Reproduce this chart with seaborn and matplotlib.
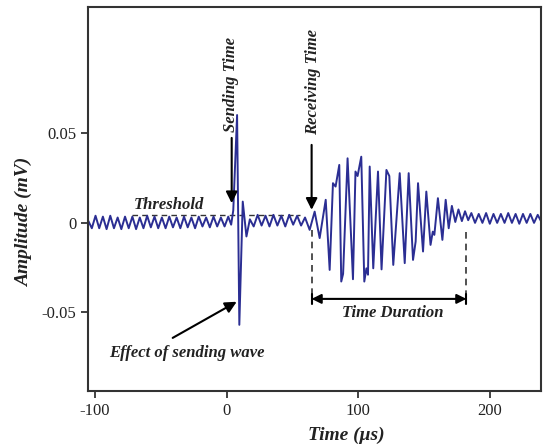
import matplotlib
matplotlib.use("Agg")
import matplotlib.pyplot as plt
import seaborn as sns
import pandas as pd

# ---- data ----
time_us = [
    -105.0, -102.4, -99.6, -96.8, -94.0, -91.2, -88.4, -85.6, -82.8, -80.0,
    -77.2, -74.4, -71.6, -68.8, -66.0, -63.2, -60.4, -57.6, -54.8, -52.0,
    -49.2, -46.4, -43.6, -40.8, -38.0, -35.2, -32.4, -29.6, -26.8, -24.0,
    -21.2, -18.4, -15.6, -12.8, -10.0, -7.2, -4.4, -1.6, 1.2, 3.4,
    5.0, 7.9, 9.6, 12.2, 15.0, 17.6, 20.5, 23.5, 26.5, 29.5,
    32.5, 35.5, 38.5, 41.5, 44.5, 47.5, 50.5, 53.5, 56.5, 59.5,
    63.0, 66.8, 70.6, 75.2, 78.2, 80.7, 82.7, 85.5, 87.0, 88.4,
    91.8, 95.9, 97.8, 99.4, 102.2, 104.5, 106.1, 107.3, 108.6, 111.3,
    114.9, 117.6, 121.3, 123.5, 126.5, 131.4, 135.2, 138.2, 141.5, 143.5,
    145.3, 149.1, 151.6, 154.8, 156.5, 157.7, 160.4, 163.8, 166.3, 168.6,
    171.0, 173.6, 176.0, 178.6, 181.0, 183.4, 185.8, 188.6, 191.4, 194.2,
    197.0, 199.8, 202.6, 205.4, 208.2, 211.0, 213.8, 216.6, 219.4, 222.2,
    225.0, 227.8, 230.6, 233.4, 236.2, 239.0,
]
amplitude_mv = [
    0.0010, -0.0030, 0.0040, -0.0030, 0.0035, -0.0035, 0.0040, -0.0030, 0.0030, -0.0035,
    0.0035, -0.0030, 0.0035, -0.0035, 0.0030, -0.0030, 0.0040, -0.0025, 0.0035, -0.0030,
    0.0030, -0.0030, 0.0035, -0.0025, 0.0030, -0.0030, 0.0035, -0.0025, 0.0030, -0.0030,
    0.0035, -0.0020, 0.0030, -0.0025, 0.0035, -0.0020, 0.0030, -0.0020, 0.0035, -0.0010,
    0.0070, 0.0603, -0.0570, 0.0119, -0.0076, 0.0020, -0.0020, 0.0045, -0.0015, 0.0040,
    -0.0020, 0.0045, -0.0015, 0.0040, -0.0020, 0.0045, -0.0010, 0.0040, -0.0015, 0.0030,
    -0.0039, 0.0063, -0.0085, 0.0129, -0.0263, 0.0222, 0.0203, 0.0324, -0.0328, -0.0285,
    0.0361, -0.0315, 0.0287, 0.0262, 0.0370, -0.0328, -0.0254, -0.0290, 0.0315, -0.0254,
    0.0287, -0.0260, 0.0296, 0.0262, -0.0235, 0.0278, -0.0225, 0.0278, -0.0207, -0.0104,
    0.0222, -0.0160, 0.0175, -0.0123, -0.0049, -0.0067, 0.0138, -0.0095, 0.0129, -0.0030,
    0.0095, 0.0005, 0.0075, 0.0010, 0.0065, 0.0015, 0.0055, 0.0000, 0.0050, 0.0000,
    0.0055, -0.0005, 0.0050, 0.0000, 0.0050, 0.0000, 0.0055, 0.0000, 0.0050, -0.0005,
    0.0050, 0.0000, 0.0050, 0.0000, 0.0045, 0.0005,
]
x_ticks = [-100, 0, 100, 200]
y_ticks = [-0.05, 0, 0.05]
y_tick_labels = ["-0.05", "0", "0.05"]

threshold_level = 0.0045
sending_time = 3.8
receiving_time = 64.5
duration_end = 182.0

df = pd.DataFrame({"Time": time_us, "Amplitude": amplitude_mv})

sns.set_style("white")
plt.rcParams["font.family"] = ["Liberation Serif", "DejaVu Serif"]
plt.rcParams["axes.unicode_minus"] = False

fig = plt.figure(figsize=(5.45, 4.48), dpi=100)
ax = fig.add_axes([0.1615, 0.1272, 0.8312, 0.8572])

sns.lineplot(data=df, x="Time", y="Amplitude", sort=False, estimator=None,
             color="#2B2E93", linewidth=1.4, ax=ax)

ax.set_xlim(-105.3, 238.7)
ax.set_ylim(-0.094, 0.1207)
ax.set_xticks(x_ticks)
ax.set_xticklabels([str(v) for v in x_ticks])
ax.set_yticks(y_ticks)
ax.set_yticklabels(y_tick_labels)
ax.tick_params(axis="both", direction="out", length=5, width=1.2,
               labelsize=12, colors="#222222", bottom=True, left=True)
for s in ax.spines.values():
    s.set_linewidth(1.5)
    s.set_color("#333333")

lab = dict(fontsize=14, fontweight="bold", fontstyle="italic", color="#222222")
ax.set_xlabel("Time (\u03bcs)", **lab)
ax.xaxis.set_label_coords(0.57, -0.094)
ax.set_ylabel("Amplitude (mV)", **lab)
ax.yaxis.set_label_coords(-0.122, 0.44)

ann = dict(fontsize=12, fontweight="bold", fontstyle="italic", color="#222222")
arrow = dict(arrowstyle="-|>", color="black", lw=1.5, mutation_scale=17, shrinkA=0, shrinkB=0)

# threshold
ax.plot([-72, 56], [threshold_level, threshold_level], color="#333333",
        lw=1.0, dashes=(4, 3), zorder=1)
ax.text(-44, 0.0078, "Threshold", ha="center", va="baseline", **ann)

# sending time
ax.text(3.6, 0.0775, "Sending Time", rotation=90, ha="center", va="center", **ann)
ax.annotate("", xy=(sending_time, 0.011), xytext=(sending_time, 0.0475), arrowprops=arrow)

# receiving time
ax.text(65.5, 0.0787, "Receiving Time", rotation=90, ha="center", va="center", **ann)
ax.annotate("", xy=(receiving_time, 0.0073), xytext=(receiving_time, 0.0436), arrowprops=arrow)

# effect of sending wave
ax.annotate("", xy=(7.6, -0.0441), xytext=(-41, -0.0643), arrowprops=arrow)
ax.text(-30.4, -0.0726, "Effect of sending wave", ha="center", va="center", **ann)

# time duration
ax.plot([receiving_time, receiving_time], [-0.004, -0.0425], color="#333333", lw=1.2, dashes=(4, 3))
ax.plot([duration_end, duration_end], [-0.005, -0.0425], color="#333333", lw=1.2, dashes=(4, 3))
ax.annotate("", xy=(duration_end, -0.0425), xytext=(receiving_time, -0.0425),
            arrowprops=dict(arrowstyle="<|-|>", color="black", lw=1.5,
                            mutation_scale=14, shrinkA=0, shrinkB=0))
for xv in (receiving_time, duration_end):
    ax.plot([xv, xv], [-0.0395, -0.0455], color="black", lw=1.5)
ax.text(126, -0.0503, "Time Duration", ha="center", va="center", **ann)

fig.savefig("out.png", dpi=100)
